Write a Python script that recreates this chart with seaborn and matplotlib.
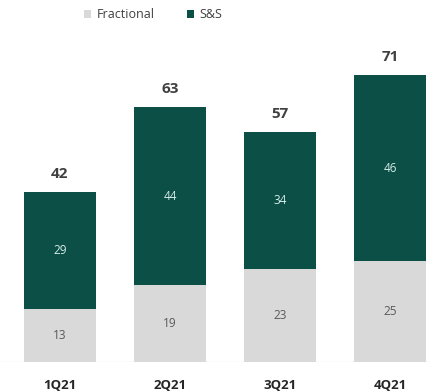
import matplotlib
matplotlib.use("Agg")
import matplotlib.pyplot as plt
import seaborn as sns
import pandas as pd
from matplotlib.patches import Patch

quarters = ["1Q21", "2Q21", "3Q21", "4Q21"]
fractional = [13, 19, 23, 25]
ss = [29, 44, 34, 46]
totals = [42, 63, 57, 71]

GREEN = "#0b4f47"
GRAY = "#d9d9d9"
TEXT = "#404040"

sns.set_theme(style="white")
plt.rcParams["font.family"] = ["Open Sans", "DejaVu Sans"]

df = pd.DataFrame({"quarter": quarters, "fractional": fractional,
                   "ss": ss, "total": totals})

fig = plt.figure(figsize=(4.31, 3.92), dpi=100)
ax = fig.add_axes([0, 30 / 392, 1, 362 / 392])

# Stacked bars: full totals in green, fractional share drawn over the base
sns.barplot(data=df, x="quarter", y="total", color=GREEN, width=0.66,
            saturation=1, linewidth=0, ax=ax)
sns.barplot(data=df, x="quarter", y="fractional", color=GRAY, width=0.66,
            saturation=1, linewidth=0, ax=ax)

ax.set_xlim(-60 / 110, 371 / 110)
ax.set_ylim(0, 362 / 4.04)
ax.set_xlabel("")
ax.set_ylabel("")
ax.set_yticks([])
ax.set_xticks([])
for s in ax.spines.values():
    s.set_visible(False)
ax.axhline(0, color="#e6e6e6", lw=1, zorder=0.5)

for i, (f, s, t) in enumerate(zip(fractional, ss, totals)):
    ax.text(i, f / 2, str(f), ha="center", va="center", fontsize=8.5,
            color="#595959")
    ax.text(i, f + s / 2, str(s), ha="center", va="center", fontsize=8.5,
            color="#d8ece8")
    ax.annotate(str(t), (i, t), xytext=(0, 13), textcoords="offset points",
                ha="center", va="center", fontsize=11, fontweight="bold",
                color=TEXT)
    ax.annotate(quarters[i], (i, 0), xytext=(0, -17), textcoords="offset points",
                ha="center", va="center", fontsize=9.5, fontweight="bold",
                color="#262626", annotation_clip=False)

handles = [Patch(facecolor=GRAY, edgecolor="none", label="Fractional"),
           Patch(facecolor=GREEN, edgecolor="none", label="S&S")]
fig.legend(handles=handles, loc="center left", bbox_to_anchor=(73 / 431, 1 - 15 / 392),
           ncol=2, frameon=False, fontsize=9, handlelength=0.55, handleheight=0.55,
           handletextpad=0.45, columnspacing=2.6, labelcolor=TEXT)

fig.savefig("out.png", dpi=100)
